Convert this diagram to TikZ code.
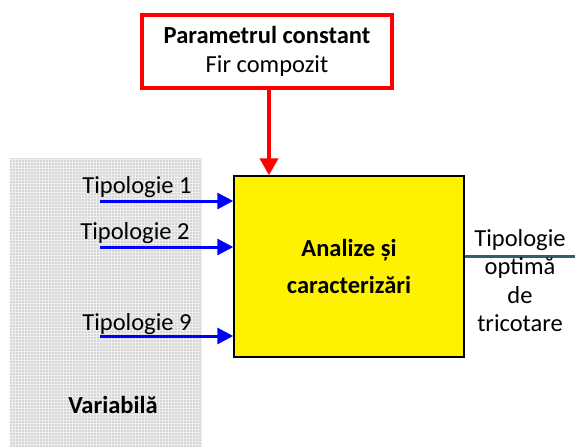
\documentclass[tikz,border=0pt]{standalone}
\usepackage{fontspec}
\setmainfont{Carlito}
\usetikzlibrary{arrows.meta}
\definecolor{teal1}{RGB}{49,95,107}
\definecolor{bgray}{RGB}{214,214,214}
\begin{document}
\begin{tikzpicture}[x=1pt,y=-1pt,
  txt/.style={font=\fontsize{24.5}{29}\selectfont, inner sep=0pt},
  bluearr/.style={draw=blue, line width=3pt, -{Triangle[length=16pt,width=16pt]}},
  redarr/.style={draw=red, line width=4pt, -{Triangle[length=17pt,width=18pt]}}]
\useasboundingbox (0,0) rectangle (575,447);
% variable background
\fill[bgray] (10,158) rectangle (202,447);
\begin{scope}
\clip (10,158) rectangle (202,447);
\draw[white, line width=0.5pt, step=3pt, opacity=0.6] (10,158) grid (202,447);
\end{scope}
\node[txt, font=\fontsize{24.5}{29}\selectfont\bfseries] (var) at (113,405) {Variabilă};
% constant parameter box
\node[draw=red, line width=4pt, minimum width=250pt, minimum height=73pt, align=center,
      font=\fontsize{24.5}{29}\selectfont, inner sep=0pt] (par) at (267,51)
      {\textbf{Parametrul constant}\\Fir compozit};
% main box
\node[draw=black, line width=1.5pt, fill=yellow, minimum width=230pt, minimum height=181pt,
      align=center, font=\fontsize{24.5}{37}\selectfont\bfseries, inner sep=0pt] (main) at (349,266.5)
      {Analize și\\caracterizări};
% red arrow
\draw[redarr] (par.south -| 269,0) -- (main.north -| 269,0);
% inputs
\coordinate (s1) at (100,201);
\coordinate (s2) at (100,247);
\coordinate (s9) at (100,336);
\draw[bluearr] (s1) -- (s1 -| main.west);
\draw[bluearr] (s2) -- (s2 -| main.west);
\draw[bluearr] (s9) -- (s9 -| main.west);
\node[txt, anchor=base] (t1) at (137,193) {Tipologie 1};
\node[txt, anchor=base] (t2) at (135,239) {Tipologie 2};
\node[txt, anchor=base] (t9) at (137,330) {Tipologie 9};
% output
\coordinate (oe) at (575,256);
\draw[teal1, line width=3pt] (main.east |- oe) -- (oe);
\node[txt, align=center, font=\fontsize{24.5}{28.5}\selectfont, anchor=north] (out) at (520,229)
  {Tipologie\\optimă\\de\\tricotare};
\end{tikzpicture}
\end{document}
